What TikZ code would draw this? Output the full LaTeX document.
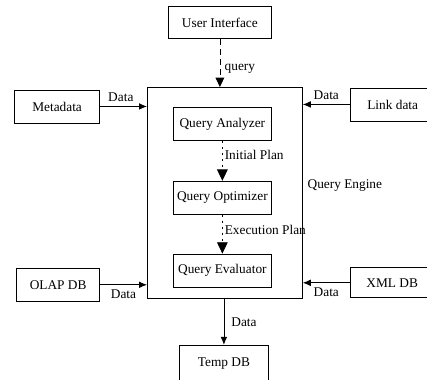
\documentclass[tikz,border=0pt]{standalone}
\usepackage{fontspec}
\setmainfont{Liberation Serif}
\usetikzlibrary{calc}
\usetikzlibrary{positioning}
\usetikzlibrary{arrows.meta}

\begin{document}
\begin{tikzpicture}[->, >={Latex[length=6pt,width=5pt]}, draw=black, line width=0.6pt, node distance=30pt]
		\tikzstyle{block}=[draw=black,rectangle,fill=none,minimum height=24.75pt, inner sep=0pt]
		\tikzstyle{plan}=[dash pattern=on 1.5pt off 3pt, -{Triangle[length=8.5pt,width=8pt]}]
		\tikzstyle{annot} = [inner sep=1.5pt]
		
		\node[block, minimum width=116.25pt, minimum height=158.25pt] (qe) {};
		\useasboundingbox ($(qe.north west)+(-110.25pt,65.25pt)$) rectangle ++(320.25pt,-284.25pt);
		\node[block, minimum width=73.5pt, below=15pt of qe.north, xshift=-1.9pt] (qa) {Query Analyzer};
		\node[block, minimum width=73.5pt, below=30pt of qa] (qo) {Query Optimizer};
		\node[block, minimum width=73.5pt, below=29.25pt of qo] (qev) {Query Evaluator};
		\node[block, minimum width=77.25pt, minimum height=24pt, above=36pt of qe.north, xshift=-3.75pt] (ui) {User Interface};
		\node[block, minimum width=63.75pt, left=35.25pt of qe.north west, yshift=-14.6pt] (meta) {Metadata};
		\node[block, minimum width=63.75pt, right=35.25pt of qe.north east, yshift=-13.1pt] (link) {Link data};
		\node[block, minimum width=62.25pt, left=35.25pt of qe.south west, yshift=10.5pt] (olap) {OLAP DB};
		\node[block, minimum width=63pt, minimum height=22.5pt, right=35.25pt of qe.south east, yshift=12pt] (xml) {XML DB};
		\node[block, minimum width=66.75pt, minimum height=27.75pt, below=34.5pt of qe.south, xshift=-0.75pt] (temp) {Temp DB};
		\node[right=0pt of qe.east, yshift=5.6pt] (qelabel) {Query Engine};
		
		\draw[dash pattern=on 4.5pt off 3pt, -{Triangle[length=7pt,width=6.5pt]}] (ui) -- (ui |- qe.north) node[right, pos=0.62] {query};
		\draw[plan] (qa) -- (qo) node[annot, right, pos=0.35] {Initial Plan};
		\draw[plan] (qo) -- (qev) node[annot, right, pos=0.4] {Execution Plan};
		\draw (meta) -- (meta -| qe.west) node[midway, above, xshift=-2pt] {Data};
		\draw (link) -- (link -| qe.east) node[midway, above] {Data};
		\draw (olap) -- (olap -| qe.west) node[midway, below] {Data};
		\draw (xml) -- (xml -| qe.east) node[midway, below] {Data};
		\draw (qe.south -| temp) -- (temp) node[midway, right, xshift=2pt] {Data};
	\end{tikzpicture}
\end{document}
